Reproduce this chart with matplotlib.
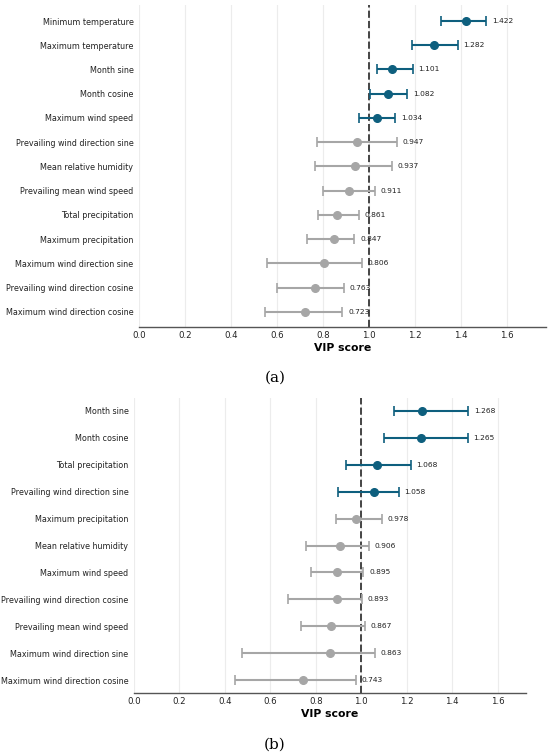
import matplotlib
matplotlib.use('Agg')
import matplotlib.pyplot as plt

# panel (a)
names_a = ['Minimum temperature', 'Maximum temperature', 'Month sine', 'Month cosine',
           'Maximum wind speed', 'Prevailing wind direction sine', 'Mean relative humidity',
           'Prevailing mean wind speed', 'Total precipitation', 'Maximum precipitation',
           'Maximum wind direction sine', 'Prevailing wind direction cosine',
           'Maximum wind direction cosine']
vip_a = [1.422, 1.282, 1.101, 1.082, 1.034, 0.947, 0.937, 0.911, 0.861, 0.847, 0.806, 0.763, 0.723]
low_a = [1.313, 1.185, 1.034, 1.002, 0.954, 0.775, 0.765, 0.801, 0.777, 0.728, 0.558, 0.599, 0.546]
high_a = [1.509, 1.384, 1.190, 1.165, 1.113, 1.119, 1.099, 1.024, 0.954, 0.936, 0.969, 0.890, 0.884]

# panel (b)
names_b = ['Month sine', 'Month cosine', 'Total precipitation', 'Prevailing wind direction sine',
           'Maximum precipitation', 'Mean relative humidity', 'Maximum wind speed',
           'Prevailing wind direction cosine', 'Prevailing mean wind speed',
           'Maximum wind direction sine', 'Maximum wind direction cosine']
vip_b = [1.268, 1.265, 1.068, 1.058, 0.978, 0.906, 0.895, 0.893, 0.867, 0.863, 0.743]
low_b = [1.143, 1.099, 0.931, 0.896, 0.891, 0.756, 0.781, 0.678, 0.737, 0.475, 0.446]
high_b = [1.472, 1.469, 1.218, 1.166, 1.090, 1.034, 1.010, 1.004, 1.015, 1.059, 0.975]

TEAL = '#0e5f7e'
GREY = '#a6a6a6'
W, H = 550, 755


def vip_panel(fig, box, names, vip, low, high, ypad, xmax):
    l, t, r, b = box
    ax = fig.add_axes([l / W, 1 - b / H, (r - l) / W, (b - t) / H])
    for i in range(len(names)):
        c = TEAL if vip[i] > 1 else GREY
        ax.errorbar(vip[i], i, xerr=[[vip[i] - low[i]], [high[i] - vip[i]]],
                    fmt='o', color=c, ecolor=c, elinewidth=1.5, capsize=3.5,
                    capthick=1.2, markersize=5.5, zorder=3)
        ax.text(high[i] + 0.025, i, '%.3f' % vip[i], fontsize=5.4,
                va='center', ha='left', color='#222222', zorder=4)
    ax.axvline(1.0, color='#444444', linestyle='--', linewidth=1.4, zorder=2)
    ax.set_yticks(range(len(names)))
    ax.set_yticklabels(names, fontsize=5.8, color='#222222')
    ax.set_ylim(len(names) - 1 + ypad[1], -ypad[0])
    ax.set_xlim(0, xmax)
    ax.set_xticks([0.0, 0.2, 0.4, 0.6, 0.8, 1.0, 1.2, 1.4, 1.6])
    ax.set_xticklabels(['%.1f' % v for v in ax.get_xticks()], fontsize=6.2, color='#222222')
    ax.tick_params(axis='y', length=0, pad=4)
    ax.tick_params(axis='x', length=0, pad=3)
    ax.grid(axis='x', color='#ececec', linewidth=0.8, zorder=0)
    ax.set_axisbelow(True)
    for s in ['top', 'right', 'left']:
        ax.spines[s].set_visible(False)
    ax.spines['bottom'].set_color('#555555')
    ax.spines['bottom'].set_linewidth(1.0)
    ax.set_xlabel('VIP score', fontsize=7.8, fontweight='bold', labelpad=2)
    return ax


fig = plt.figure(figsize=(5.5, 7.55), dpi=100)

vip_panel(fig, (139, 5, 546, 327), names_a, vip_a, low_a, high_a, (0.66, 0.62), max(high_a) * 1.172)
vip_panel(fig, (134, 398, 526, 693), names_b, vip_b, low_b, high_b, (0.48, 0.48), max(high_b) * 1.172)

fig.text(275 / W, 1 - 378 / H, '(a)', fontsize=11, family='DejaVu Serif', ha='center', va='center')
fig.text(275 / W, 1 - 745 / H, '(b)', fontsize=11, family='DejaVu Serif', ha='center', va='center')

fig.savefig('out.png', dpi=100)
